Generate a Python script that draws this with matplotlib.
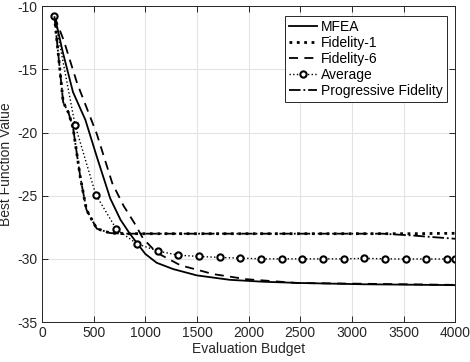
import matplotlib
matplotlib.use("Agg")
import matplotlib.pyplot as plt
import numpy as np

plt.rcParams['font.family'] = ['Liberation Sans', 'DejaVu Sans']
plt.rcParams['font.size'] = 10
plt.rcParams['axes.unicode_minus'] = False

# MFEA (solid)
mfea_x = [120, 140, 200, 300, 420, 530, 660, 760, 850, 1000, 1110, 1270, 1500, 1820, 2140, 2500, 3100, 3500, 4000]
mfea_y = [-10.8, -11.4, -13.6, -16.8, -19.0, -21.9, -25.2, -26.9, -28.0, -29.6, -30.3, -30.8, -31.3, -31.65, -31.8, -31.9, -32.0, -32.03, -32.07]

# Fidelity-6 (dashed)
fid6_x = [120, 210, 340, 530, 680, 790, 890, 980, 1110, 1340, 1660, 1980, 2470, 3000, 3500, 4000]
fid6_y = [-10.8, -12.7, -16.1, -20.1, -24.0, -25.8, -27.1, -28.4, -29.5, -30.5, -31.2, -31.6, -31.9, -31.95, -32.0, -32.05]

# Fidelity-1 and Progressive Fidelity
fast_x = [120, 175, 205, 255, 300, 370, 430, 530, 660, 800, 1500, 2500, 3300, 3400, 3600, 3800, 4000]
fid1_y = [-10.8, -15.2, -17.6, -18.4, -19.6, -23.5, -26.1, -27.6, -27.95, -28.0, -28.0, -28.0, -28.0, -28.0, -28.0, -27.98, -27.97]
prog_y = [-10.8, -15.2, -17.6, -18.4, -19.6, -23.5, -26.1, -27.6, -27.95, -28.0, -28.0, -28.0, -28.0, -28.05, -28.15, -28.28, -28.4]

# Average (dotted with circles)
avg_x = [120, 320, 520, 720, 920, 1120, 1320, 1520, 1720, 1920, 2120, 2320, 2520, 2720, 2920, 3120, 3320, 3520, 3720, 3920, 4000]
avg_y = [-10.8, -19.4, -24.9, -27.65, -28.8, -29.37, -29.7, -29.8, -29.88, -29.93, -29.99, -29.99, -29.99, -29.99, -29.99, -29.95, -29.99, -30.0, -30.0, -30.0, -30.0]

fig = plt.figure(figsize=(4.7, 3.62), dpi=100)
ax = fig.add_axes([0.0894, 0.110, 0.879, 0.873])

ax.plot(mfea_x, mfea_y, '-', color='k', lw=1.3, label='MFEA')
ax.plot(fast_x, fid1_y, ':', color='k', lw=2.0, label='Fidelity-1')
ax.plot(fid6_x, fid6_y, '--', color='k', lw=1.3, dashes=(5, 3.5), label='Fidelity-6')
ax.plot(avg_x, avg_y, ':', color='k', lw=1.0, marker='o', ms=4.5, mfc='white',
        mec='k', mew=1.5, label='Average')
ax.plot(fast_x, prog_y, '-.', color='k', lw=1.3, label='Progressive Fidelity')

ax.set_xlim(0, 4000)
ax.set_ylim(-35, -10)
ax.set_xticks(np.arange(0, 4001, 500))
ax.set_yticks(np.arange(-35, -9, 5))
ax.grid(True, color='#e3e3e3', lw=0.8)
ax.set_axisbelow(True)
ax.tick_params(direction='in', top=True, right=True, length=4, width=0.7,
               colors='#262626', labelcolor='#262626', labelsize=10, pad=3)
for s in ax.spines.values():
    s.set_color('#262626')
    s.set_linewidth(0.7)

ax.set_xlabel('Evaluation Budget', color='#262626', labelpad=1)
ax.set_ylabel('Best Function Value', color='#262626', labelpad=3)

leg = ax.legend(loc='upper right', bbox_to_anchor=(0.98, 0.97), fancybox=False,
                edgecolor='#262626', framealpha=1, handlelength=2.0,
                handletextpad=0.3, labelspacing=0.15, borderpad=0.3,
                borderaxespad=0, numpoints=1)
leg.get_frame().set_linewidth(0.7)

fig.savefig('out.png', dpi=100)
